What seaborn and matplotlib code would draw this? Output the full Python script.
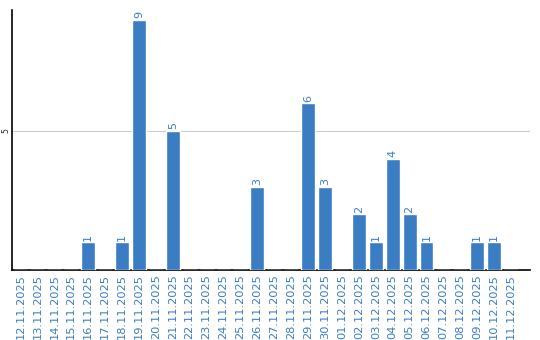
import matplotlib
matplotlib.use("Agg")
import matplotlib.pyplot as plt
import seaborn as sns
import pandas as pd

dates = ["12.11.2025", "13.11.2025", "14.11.2025", "15.11.2025", "16.11.2025",
         "17.11.2025", "18.11.2025", "19.11.2025", "20.11.2025", "21.11.2025",
         "22.11.2025", "23.11.2025", "24.11.2025", "25.11.2025", "26.11.2025",
         "27.11.2025", "28.11.2025", "29.11.2025", "30.11.2025", "01.12.2025",
         "02.12.2025", "03.12.2025", "04.12.2025", "05.12.2025", "06.12.2025",
         "07.12.2025", "08.12.2025", "09.12.2025", "10.12.2025", "11.12.2025"]
counts = [0, 0, 0, 0, 1, 0, 1, 9, 0, 5, 0, 0, 0, 0, 3, 0, 0, 6, 3, 0,
          2, 1, 4, 2, 1, 0, 0, 1, 1, 0]

blue = "#3a7dc2"
df = pd.DataFrame({"date": dates, "count": counts})

sns.set_style("white")
fig = plt.figure(figsize=(5.4, 3.4), dpi=100)
ax = fig.add_axes([0.0222, 0.206, 0.9588, 0.764])
sns.barplot(data=df, x="date", y="count", color=blue, saturation=1,
            width=0.82, ax=ax, zorder=3)

for i, v in enumerate(counts):
    if v > 0:
        ax.text(i, v + 0.06, str(v), rotation=90, ha="center", va="bottom",
                color=blue, fontsize=8)

ax.set_xlim(-0.5, len(dates) - 0.5 + 0.6)
ax.set_ylim(0, 9.35)
ax.set_yticks([5])
ax.set_yticklabels(["5"], rotation=90, va="center", fontsize=5.5)
ax.yaxis.grid(True, color="#cccccc", linewidth=0.8, zorder=0)
ax.tick_params(axis="y", length=0, pad=1.5)
ax.tick_params(axis="x", length=0, pad=3, labelcolor=blue, labelsize=8.2)
ax.set_xticks(range(len(dates)))
ax.set_xticklabels(dates, rotation=90)
ax.set_xlabel("")
ax.set_ylabel("")
for s in ["top", "right"]:
    ax.spines[s].set_visible(False)
for s in ["left", "bottom"]:
    ax.spines[s].set_color("black")
    ax.spines[s].set_linewidth(1.2)

fig.savefig("out.png", dpi=100)
